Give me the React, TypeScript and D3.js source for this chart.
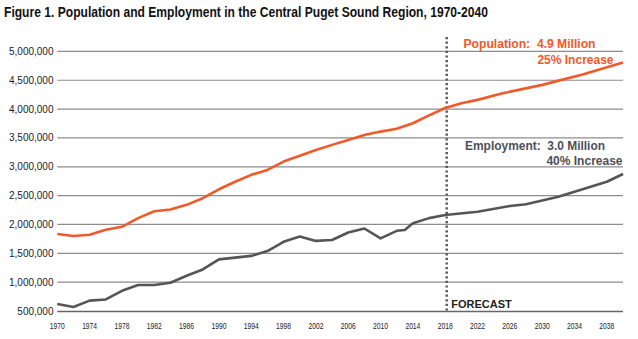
import React from "react";
import * as d3 from "d3";

const title = "Figure 1. Population and Employment in the Central Puget Sound Region, 1970-2040";

const popYears = [1970, 1972, 1974, 1976, 1978, 1980, 1982, 1984, 1986, 1988, 1990, 1992, 1994, 1996, 1998, 2000, 2002, 2004, 2006, 2008, 2010, 2012, 2014, 2016, 2018, 2020, 2022, 2025, 2030, 2035, 2040];
const popValues = [1835000, 1800000, 1823000, 1910000, 1960000, 2110000, 2230000, 2260000, 2340000, 2455000, 2610000, 2740000, 2860000, 2945000, 3090000, 3190000, 3290000, 3380000, 3465000, 3550000, 3610000, 3660000, 3755000, 3890000, 4020000, 4100000, 4160000, 4270000, 4420000, 4600000, 4810000];

const empYears = [1970, 1972, 1974, 1976, 1978, 1980, 1982, 1984, 1986, 1988, 1990, 1992, 1994, 1996, 1998, 2000, 2002, 2004, 2006, 2008, 2010, 2012, 2013, 2014, 2016, 2018, 2022, 2026, 2028, 2032, 2036, 2038, 2040];
const empValues = [620000, 570000, 680000, 700000, 850000, 950000, 950000, 990000, 1110000, 1220000, 1395000, 1425000, 1455000, 1540000, 1700000, 1790000, 1715000, 1730000, 1860000, 1930000, 1760000, 1890000, 1905000, 2020000, 2110000, 2165000, 2220000, 2320000, 2350000, 2480000, 2655000, 2740000, 2875000];

const yTicks = [500000, 1000000, 1500000, 2000000, 2500000, 3000000, 3500000, 4000000, 4500000, 5000000];
const xTicks = [1970, 1974, 1978, 1982, 1986, 1990, 1994, 1998, 2002, 2006, 2010, 2014, 2018, 2022, 2026, 2030, 2034, 2038];
const forecastYear = 2018;

const popLabel = "Population:  4.9 Million";
const popLabel2 = "25% Increase";
const empLabel = "Employment:  3.0 Million";
const empLabel2 = "40% Increase";
const forecastLabel = "FORECAST";

const ORANGE = "#F05A28";
const GRAY = "#555555";
const TEXTGRAY = "#4d5059";

export default function App() {
  const x = d3.scaleLinear().domain([1970, 2040]).range([57.3, 623]);
  const y = d3.scaleLinear().domain([500000, 5250000]).range([311, 37]);
  const fmt = d3.format(",");

  const line = d3
    .line<[number, number]>()
    .x((d) => x(d[0]))
    .y((d) => y(d[1]));

  const popData = popYears.map((yr, i) => [yr, popValues[i]] as [number, number]);
  const empData = empYears.map((yr, i) => [yr, empValues[i]] as [number, number]);

  const font = "'Liberation Sans', Arial, sans-serif";

  return (
    <svg
      width={638}
      height={339}
      style={{ position: "absolute", left: 0, top: 0, background: "#fff" }}
      fontFamily={font}
    >
      <rect width={638} height={339} fill="#fff" />
      <text x={4} y={17} fontSize={14} fontWeight="bold" fill="#111" textLength={484} lengthAdjust="spacingAndGlyphs">
        {title}
      </text>

      {yTicks.map((t) => (
        <g key={t}>
          {t !== 500000 && (
            <line x1={57.3} x2={623} y1={y(t)} y2={y(t)} stroke="#8c8c8c" strokeWidth={1.2} />
          )}
          <text x={53.5} y={y(t) + 3.5} fontSize={10} textAnchor="end" fill="#1a1a2a">
            {fmt(t)}
          </text>
        </g>
      ))}
      <line x1={57.3} x2={623} y1={y(500000) + 0.5} y2={y(500000) + 0.5} stroke="#666" strokeWidth={1.6} />

      {xTicks.map((t) => (
        <text key={t} x={x(t)} y={329} fontSize={9} textAnchor="middle" fill="#1a1a2a" textLength={15} lengthAdjust="spacingAndGlyphs">
          {t}
        </text>
      ))}

      <line
        x1={x(forecastYear) + 1.5}
        x2={x(forecastYear) + 1.5}
        y1={37}
        y2={313}
        stroke={GRAY}
        strokeWidth={2.4}
        strokeDasharray="2.2 2.4"
      />
      <text x={x(forecastYear) + 6} y={308} fontSize={11} fontWeight="bold" fill="#222">
        {forecastLabel}
      </text>

      <path d={line(popData) || ""} fill="none" stroke={ORANGE} strokeWidth={2.6} strokeLinejoin="round" />
      <path d={line(empData) || ""} fill="none" stroke={GRAY} strokeWidth={2.6} strokeLinejoin="round" />

      <text x={463.5} y={48} fontSize={12} fontWeight="bold" fill={ORANGE} xmlSpace="preserve" textLength={132} lengthAdjust="spacingAndGlyphs">
        {popLabel}
      </text>
      <text x={613.5} y={63.5} fontSize={12} fontWeight="bold" fill={ORANGE} textAnchor="end">
        {popLabel2}
      </text>

      <text x={465} y={150} fontSize={12} fontWeight="bold" fill={TEXTGRAY} xmlSpace="preserve" textLength={140} lengthAdjust="spacingAndGlyphs">
        {empLabel}
      </text>
      <text x={622.5} y={165} fontSize={12} fontWeight="bold" fill={TEXTGRAY} textAnchor="end">
        {empLabel2}
      </text>
    </svg>
  );
}
